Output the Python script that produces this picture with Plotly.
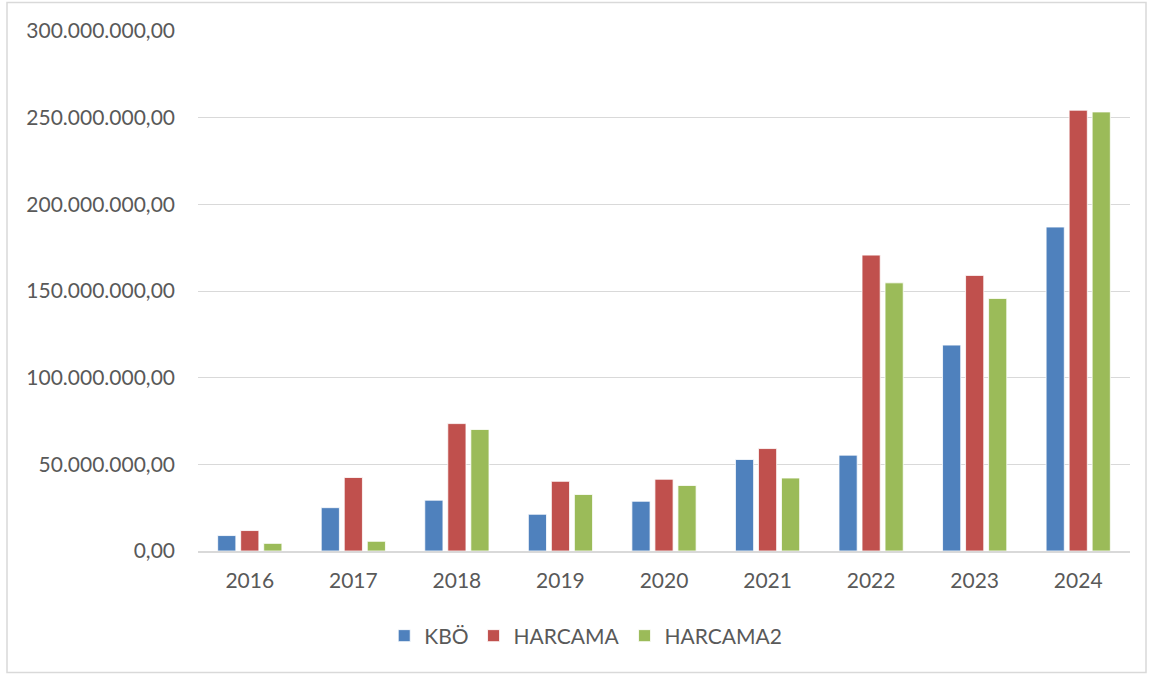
import plotly.graph_objects as go

years = ["2016", "2017", "2018", "2019", "2020", "2021", "2022", "2023", "2024"]
kbo = [8.9e6, 25.0e6, 29.3e6, 21.2e6, 28.7e6, 52.8e6, 55.3e6, 118.8e6, 186.9e6]
harcama = [11.8e6, 42.4e6, 73.5e6, 40.2e6, 41.4e6, 59.1e6, 170.7e6, 159.0e6, 254.3e6]
harcama2 = [4.4e6, 5.6e6, 70.1e6, 32.6e6, 37.8e6, 42.1e6, 154.7e6, 145.7e6, 253.3e6]

series = [("KBÖ", kbo, "#4F81BD"), ("HARCAMA", harcama, "#C0504D"), ("HARCAMA2", harcama2, "#9BBB59")]

fig = go.Figure()
for name, vals, col in series:
    fig.add_trace(go.Bar(x=years, y=vals, name=name,
                         marker=dict(color=col, line=dict(color="white", width=0.8)),
                         hoverinfo="skip"))

W, H = 1153, 675
L, R, T, B = 198, 23, 31, 124
FS = 21
fig.update_layout(
    width=W, height=H,
    margin=dict(l=L, r=R, t=T, b=B, autoexpand=False),
    paper_bgcolor="white", plot_bgcolor="white",
    separators=",.",
    barmode="group", bargap=0.333, bargroupgap=0.21,
    font=dict(family="Lato, Open Sans, sans-serif", size=FS, color="#595959"),
    xaxis=dict(showgrid=False, showline=True, linecolor="#D9D9D9", linewidth=1.5, ticks="",
               ticklabelstandoff=10, tickfont=dict(size=FS, color="#595959")),
    yaxis=dict(range=[0, 300e6], tickvals=[0, 50e6, 100e6, 150e6, 200e6, 250e6, 300e6], tickformat=",.2f",
               showgrid=True, gridcolor="#D9D9D9", gridwidth=1.2, zeroline=False, showline=False,
               ticks="", ticklabelstandoff=22, tickfont=dict(size=FS, color="#595959")),
    legend=dict(orientation="h", xref="container", x=0.508, xanchor="center",
                yref="container", y=1 - 636 / H, yanchor="middle",
                font=dict(size=FS, color="#595959"), itemwidth=30, traceorder="normal"),
    showlegend=True,
)

pw = W - L - R
ph = H - T - B
def px_x(v):
    return (v - L) / pw
def px_y(v):
    return (H - B - v) / ph

fig.add_shape(type="rect", xref="paper", yref="paper",
              x0=px_x(7), x1=px_x(1146), y0=px_y(672.5), y1=px_y(2.5),
              line=dict(color="#D9D9D9", width=1.5), fillcolor="rgba(0,0,0,0)", layer="below")

fig.write_html("out.html", config={"displayModeBar": False},
               post_script="document.body.style.margin='0';document.body.style.overflow='hidden';")
